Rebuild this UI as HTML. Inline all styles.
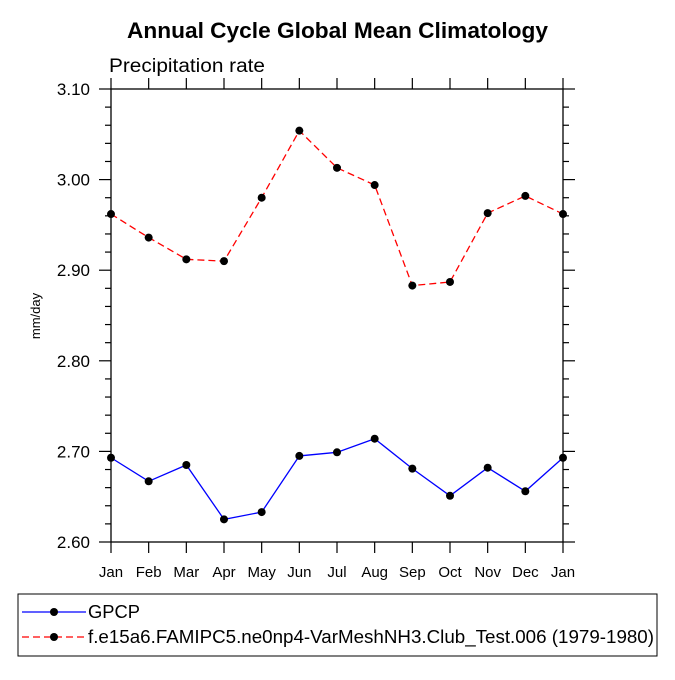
<!DOCTYPE html>
<html><head><meta charset="utf-8"><style>
body{margin:0;background:#fff}
svg text{font-family:"Liberation Sans",Arial,sans-serif}
</style></head><body>
<svg id="chart" width="675" height="675" xmlns="http://www.w3.org/2000/svg">
<text x="127" y="38" font-size="22" font-weight="bold" textLength="421" lengthAdjust="spacingAndGlyphs">Annual Cycle Global Mean Climatology</text>
<text x="109" y="72" font-size="19" textLength="156" lengthAdjust="spacingAndGlyphs">Precipitation rate</text>
<text transform="translate(40,316) rotate(-90)" text-anchor="middle" font-size="13">mm/day</text>
<g id="axes"></g>
<g id="series"></g>
<rect x="18" y="594" width="639" height="62" fill="none" stroke="#000" stroke-width="1"/>
<g>
<line x1="22" y1="612" x2="86" y2="612" stroke="#00f" stroke-width="1.3"/>
<circle cx="54" cy="612" r="4" fill="#000"/>
<text x="88" y="618" font-size="18" textLength="52" lengthAdjust="spacingAndGlyphs">GPCP</text></g>
<g>
<line x1="22" y1="637" x2="86" y2="637" stroke="#f00" stroke-width="1.3" stroke-dasharray="7,4"/>
<circle cx="54" cy="637" r="4" fill="#000"/>
<text x="88" y="643" font-size="18" textLength="566" lengthAdjust="spacingAndGlyphs">f.e15a6.FAMIPC5.ne0np4-VarMeshNH3.Club_Test.006 (1979-1980)</text></g>
</svg>
<script>
const months=["Jan","Feb","Mar","Apr","May","Jun","Jul","Aug","Sep","Oct","Nov","Dec","Jan"];
const gpcp=[2.693,2.667,2.685,2.625,2.633,2.695,2.699,2.714,2.681,2.651,2.682,2.656,2.693];
const model=[2.962,2.936,2.912,2.910,2.980,3.054,3.013,2.994,2.883,2.887,2.963,2.982,2.962];
const yTicks=["2.60","2.70","2.80","2.90","3.00","3.10"];
const X0=111,X1=563,Y0=542,Y1=89,YMIN=2.6,YMAX=3.1;
const NS="http://www.w3.org/2000/svg";
function xs(i){return X0+(X1-X0)*i/(months.length-1);}
function ys(v){return Y0-(v-YMIN)/(YMAX-YMIN)*(Y0-Y1);}
function mk(t,a,p){const e=document.createElementNS(NS,t);for(const k in a)e.setAttribute(k,a[k]);p.appendChild(e);return e;}
const ax=document.getElementById('axes');
const frame=mk('rect',{x:X0,y:Y1,width:X1-X0,height:Y0-Y1,fill:'none',stroke:'#000','stroke-width':1.3},ax);


months.forEach((m,i)=>{
  const x=xs(i);
  mk('line',{x1:x,y1:Y0,x2:x,y2:Y0+11,stroke:'#000','stroke-width':1.2},ax);
  mk('line',{x1:x,y1:Y1,x2:x,y2:Y1-11,stroke:'#000','stroke-width':1.2},ax);
  const t=mk('text',{x:x,y:Y0+35,'text-anchor':'middle','font-size':15},ax);t.textContent=m;
  
  
});
for(let v=YMIN;v<=YMAX+1e-6;v+=0.02){
  const y=ys(v);const major=Math.abs(Math.round(v*10)-v*10)<1e-6;const L=major?12:6;
  mk('line',{x1:X0-L,y1:y,x2:X0,y2:y,stroke:'#000','stroke-width':1.2},ax);
  mk('line',{x1:X1,y1:y,x2:X1+L,y2:y,stroke:'#000','stroke-width':1.2},ax);
}
yTicks.forEach(s=>{
  const t=mk('text',{x:X0-21,y:ys(parseFloat(s))+6,'text-anchor':'end','font-size':17},ax);t.textContent=s;
  
  
});
const sg=document.getElementById('series');
function draw(vals,color,dash,name){
  const g=mk('g',{},sg);
  
  
  const pts=vals.map((v,i)=>xs(i)+','+ys(v)).join(' ');
  const a={points:pts,fill:'none',stroke:color,'stroke-width':1.3};if(dash)a['stroke-dasharray']=dash;
  mk('polyline',a,g);
  vals.forEach((v,i)=>{const c=mk('circle',{cx:xs(i),cy:ys(v),r:4,fill:'#000'},g);
    
    });
}
draw(gpcp,'#00f',null,'gpcp-series');
draw(model,'#f00','7,4','model-series');
</script>
</body></html>
